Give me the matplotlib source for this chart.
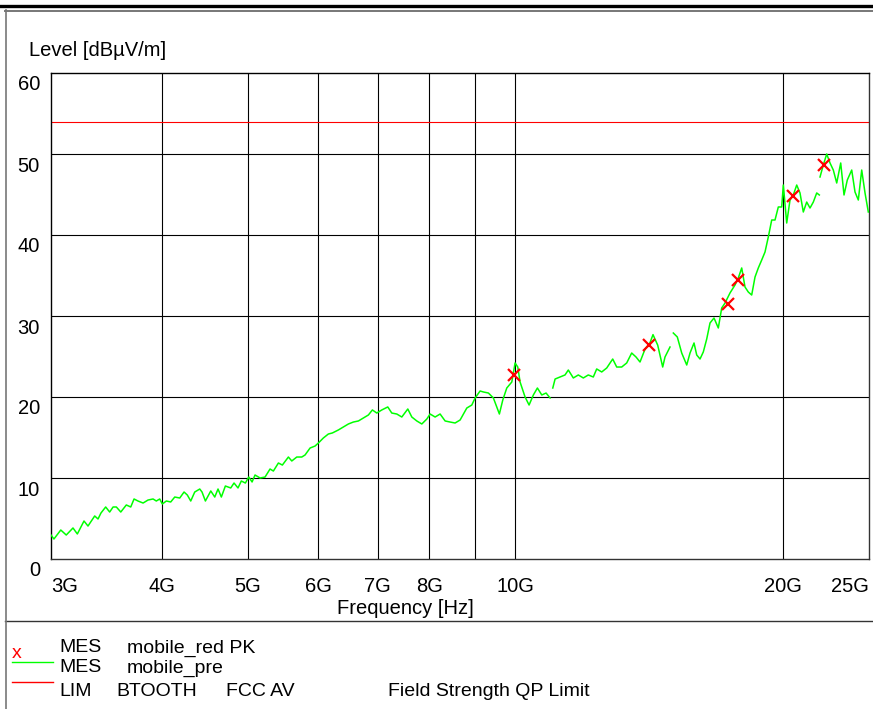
import numpy as np
import matplotlib
matplotlib.use("Agg")
import matplotlib.pyplot as plt
from matplotlib.lines import Line2D
from matplotlib.transforms import ScaledTranslation

plt.rcParams['font.family'] = ['Liberation Sans', 'DejaVu Sans']

# scan data, frequency in GHz, level in dBuV/m (four sub-bands)
f1 = [3.0, 3.023, 3.077, 3.121, 3.176, 3.212, 3.268, 3.302, 3.36, 3.389, 3.415, 3.457,
      3.493, 3.524, 3.554, 3.595, 3.647, 3.689, 3.721, 3.759, 3.809, 3.858, 3.909, 3.942,
      3.977, 4.004, 4.046, 4.092, 4.135, 4.189, 4.236, 4.272, 4.31, 4.355, 4.412, 4.438,
      4.477, 4.54, 4.587, 4.626, 4.666, 4.715, 4.781, 4.822, 4.872, 4.914, 4.966, 5.01,
      5.053, 5.092, 5.159, 5.226, 5.294, 5.34, 5.41, 5.466, 5.552, 5.601, 5.674, 5.748,
      5.797, 5.873, 5.95, 6.001, 6.079, 6.158, 6.223, 6.32, 6.403, 6.487, 6.571, 6.657,
      6.744, 6.832, 6.903, 6.982, 7.073, 7.184, 7.259, 7.354, 7.45, 7.567, 7.646, 7.746,
      7.847, 7.949, 8.018, 8.122, 8.228, 8.336, 8.444, 8.554, 8.666, 8.818, 8.933, 9.01,
      9.127, 9.206, 9.326, 9.447, 9.53, 9.595, 9.68, 9.781, 9.909, 9.994, 10.064, 10.124,
      10.256, 10.363, 10.479, 10.589, 10.71, 10.83, 10.943]
l1 = [2.96, 2.47, 3.58, 2.96, 3.83, 3.09, 4.69, 4.07, 5.31, 4.94, 5.68, 6.42,
      5.8, 6.42, 6.42, 5.8, 6.67, 6.42, 7.41, 7.16, 6.91, 7.28, 7.41, 7.16,
      7.41, 6.79, 7.16, 7.04, 7.65, 7.53, 8.27, 7.9, 7.16, 8.27, 8.64, 8.27,
      7.16, 8.4, 7.65, 8.64, 7.65, 9.01, 8.77, 9.38, 8.77, 9.63, 9.38, 10.12,
      9.51, 10.37, 10.0, 10.12, 11.11, 10.86, 11.85, 11.6, 12.59, 12.1, 12.59, 12.59,
      12.84, 13.7, 13.95, 14.32, 14.94, 15.43, 15.56, 15.93, 16.3, 16.67, 16.91, 17.04,
      17.41, 17.78, 18.4, 18.02, 18.4, 18.77, 18.02, 17.9, 17.53, 18.52, 17.53, 17.04,
      16.67, 17.28, 17.9, 17.53, 17.9, 17.04, 16.91, 16.79, 17.16, 18.64, 19.01, 19.88,
      20.74, 20.62, 20.49, 19.88, 18.77, 17.9, 19.63, 21.11, 21.85, 24.2, 23.7, 21.85,
      20.0, 19.01, 20.25, 21.11, 20.25, 20.49, 19.88]

f2 = [11.02, 11.086, 11.229, 11.375, 11.473, 11.623, 11.774, 11.928, 12.083, 12.241,
      12.349, 12.511, 12.674, 12.873, 13.007, 13.176, 13.348, 13.522, 13.674, 13.817,
      13.997, 14.18, 14.29, 14.466, 14.654, 14.742, 14.934]
l2 = [21.11, 22.22, 22.47, 22.72, 23.33, 22.35, 22.72, 22.35, 22.72, 22.47,
      23.46, 23.09, 23.58, 24.69, 23.7, 23.7, 24.2, 25.43, 24.94, 24.32,
      25.9, 26.7, 27.7, 26.4, 23.7, 24.94, 26.17]

f3 = [15.063, 15.22, 15.395, 15.596, 15.73, 15.894, 16.005, 16.143, 16.281, 16.426,
      16.567, 16.74, 16.927, 17.077, 17.224, 17.448, 17.676, 17.828, 17.986, 18.14,
      18.296, 18.458, 18.617, 18.777, 18.943, 19.106, 19.27, 19.441, 19.608, 19.777,
      19.952, 20.035, 20.212, 20.386, 20.561, 20.743, 20.921, 21.101, 21.288, 21.471,
      21.656, 21.848, 21.995]
l3 = [27.9, 27.41, 25.43, 23.95, 25.43, 26.67, 25.19, 24.69, 25.56, 27.16,
      29.14, 29.75, 28.52, 30.99, 31.6, 32.84, 33.83, 34.69, 35.93, 33.58,
      32.96, 32.59, 34.81, 35.93, 36.91, 37.9, 39.75, 41.85, 41.85, 43.46,
      43.46, 46.17, 41.48, 44.32, 44.94, 46.17, 45.19, 42.84, 44.07, 43.33,
      44.07, 45.19, 44.94]

f4 = [22.035, 22.224, 22.421, 22.614, 22.808, 23.01, 23.25, 23.45, 23.651, 23.923,
      24.128, 24.336, 24.551, 24.763, 24.975]
l4 = [47.16, 48.64, 50.0, 48.89, 48.02, 46.42, 48.89, 44.94, 46.79, 48.02,
      45.31, 44.32, 48.02, 45.19, 42.84]

# final measurement points (red x)
mes_f = [9.97, 14.15, 17.37, 17.8, 20.56, 22.28]
mes_l = [22.7, 26.4, 31.5, 34.4, 44.8, 48.6]

limit_level = 54.0

xtick_vals = [3, 4, 5, 6, 7, 8, 10, 20, 25]
xtick_labels = ['3G', '4G', '5G', '6G', '7G', '8G', '10G', '20G', '25G']
xgrid_vals = [4, 5, 6, 7, 8, 9, 10, 20]
ytick_vals = [0, 10, 20, 30, 40, 50, 60]

FS = 14.5
LFS = 14
W, H = 873, 709
fig = plt.figure(figsize=(W / 100, H / 100), dpi=100)
ax = fig.add_axes([51 / W, 1 - 559 / H, (868.7 - 51) / W, (559 - 73) / H])

ax.set_xscale('log')
ax.set_xlim(3, 25)
ax.set_ylim(0, 60)

for g in xgrid_vals:
    ax.axvline(g, color='black', lw=0.8, zorder=1)
for g in ytick_vals[1:-1]:
    ax.axhline(g, color='black', lw=0.8, zorder=1)

ax.axhline(limit_level, color='#ff0000', lw=0.8, zorder=2)
for ff, ll in [(f1, l1), (f2, l2), (f3, l3), (f4, l4)]:
    ax.plot(ff, ll, color='#00ff00', lw=1.1, zorder=3)
ax.plot(mes_f, mes_l, 'x', color='#ff0000', ms=9, mew=1.6, zorder=4)

ax.minorticks_off()
ax.set_xticks(xtick_vals)
ax.set_xticklabels(xtick_labels)
ax.set_yticks(ytick_vals)
ax.set_yticklabels([str(v) for v in ytick_vals])
ax.tick_params(axis='both', length=0, labelsize=FS)
ax.tick_params(axis='x', pad=13)
ax.tick_params(axis='y', pad=8)
xl = ax.get_xticklabels()
xl[0].set_ha('left')
xl[-1].set_ha('right')
shift = ScaledTranslation(0, -0.10, fig.dpi_scale_trans)
for lab in ax.get_yticklabels():
    lab.set_transform(lab.get_transform() + shift)

for s in ['left', 'right', 'bottom']:
    ax.spines[s].set_color('#333333')
    ax.spines[s].set_linewidth(1.0)
ax.spines['left'].set_color('black')
ax.spines['top'].set_linestyle((0, (1, 1)))
ax.spines['top'].set_linewidth(1.0)

fig.text(29 / W, 1 - 50 / H, 'Level [dBµV/m]', fontsize=FS, va='center')
fig.text(405 / W, 1 - 609 / H, 'Frequency [Hz]', fontsize=FS, va='center', ha='center')

# frame lines
def hline(y, x0, x1, lw, c):
    fig.add_artist(Line2D([x0 / W, x1 / W], [1 - y / H, 1 - y / H], lw=lw, color=c,
                          transform=fig.transFigure))

hline(6, 0, W, 2.4, 'black')
hline(10.5, 5, W, 1.4, '#777777')
hline(621, 5, W, 1.0, '#333333')
fig.add_artist(Line2D([5.5 / W, 5.5 / W], [1 - 10 / H, 0], lw=1.2, color='#777777',
                      transform=fig.transFigure))

# legend block
fig.add_artist(Line2D([12 / W, 53 / W], [1 - 662 / H] * 2, lw=1.0, color='#00ff00',
                      transform=fig.transFigure))
fig.add_artist(Line2D([12 / W, 53 / W], [1 - 682 / H] * 2, lw=1.0, color='#ff0000',
                      transform=fig.transFigure))
fig.text(12 / W, 1 - 653 / H, 'x', color='#ff0000', fontsize=LFS, va='center')
rows = [(648, [(59, 'MES'), (127, 'mobile_red PK')]),
        (668, [(59, 'MES'), (127, 'mobile_pre')]),
        (691, [(59, 'LIM'), (116, 'BTOOTH'), (226, 'FCC AV'), (388, 'Field Strength QP Limit')])]
for y, items in rows:
    for x, t in items:
        fig.text(x / W, 1 - y / H, t, fontsize=LFS, va='center')

fig.savefig('out.png', dpi=100)
